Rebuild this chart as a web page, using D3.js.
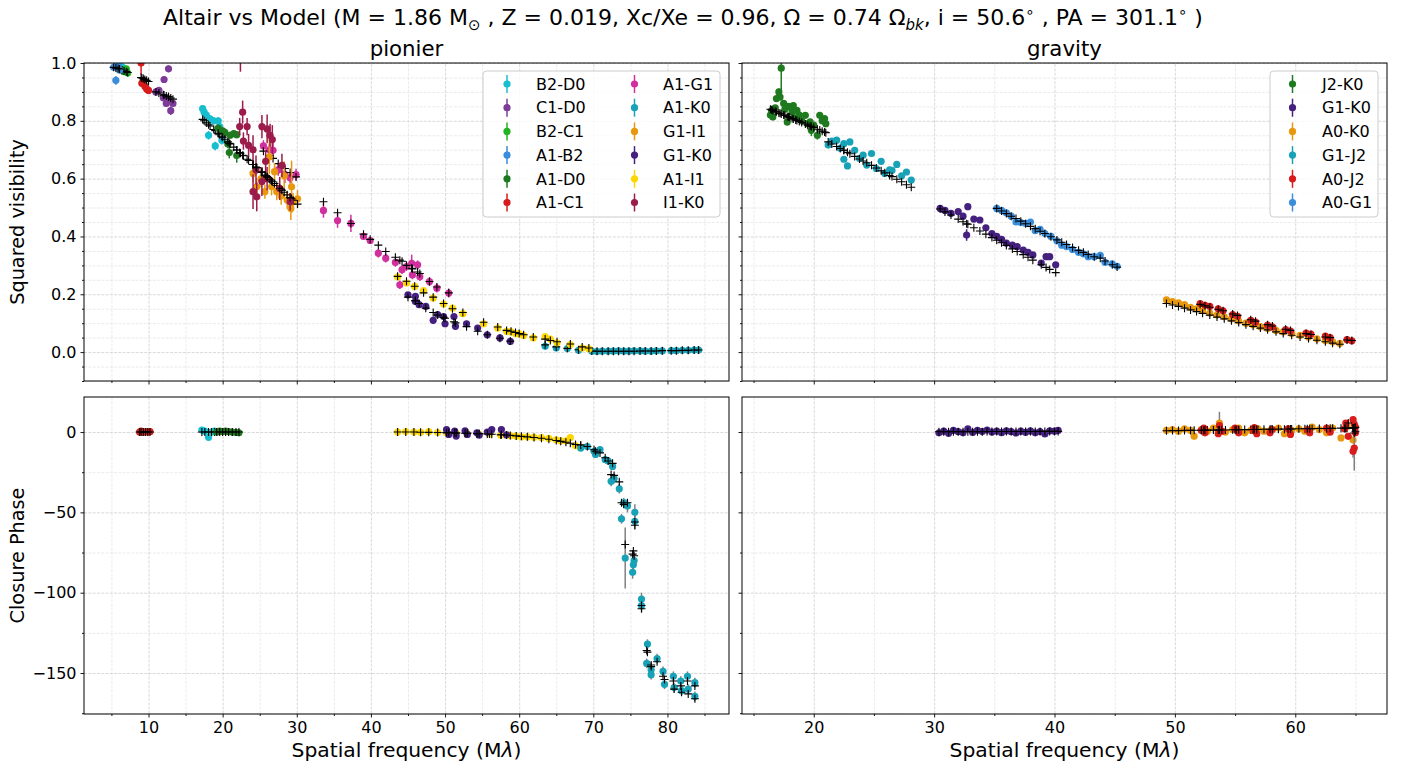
<!DOCTYPE html>
<html><head><meta charset="utf-8">
<script src="https://cdn.jsdelivr.net/npm/d3@7"></script>
<style>body{margin:0;background:#fff} svg{font-family:"DejaVu Sans",sans-serif}</style>
</head><body><svg id="c" width="1411" height="771"></svg>
<script>
// ===== PIONIER squared visibility rows: [spatial freq (Mλ), V², error, model V²]
const pV2_B2D0 = [[5.8,0.995,0.01,0.982],[6.2,0.99,0.01,0.979],[6.5,0.985,0.01,0.976],
 [17.3,0.842,0.012,0.805],[17.5,0.83,0.012,0.8],[17.8,0.82,0.012,0.793],[18.1,0.75,0.015,0.786],[18.3,0.807,0.012,0.782],
 [18.8,0.80,0.012,0.77],[19.0,0.713,0.015,0.766],[19.4,0.80,0.012,0.757],[19.6,0.78,0.012,0.752],[19.9,0.733,0.015,0.745]];
const pV2_C1D0 = [[11.0,0.90,0.01,0.90],[11.4,0.905,0.012,0.896],[12.1,0.943,0.012,0.889],[12.7,0.98,0.012,0.883],[12.0,0.88,0.012,0.89],
 [12.4,0.86,0.012,0.886],[12.7,0.87,0.012,0.883],[13.0,0.835,0.015,0.879],[13.3,0.86,0.012,0.875]];
const pV2_B2C1 = [[6.4,0.975,0.01,0.975],[6.7,0.97,0.01,0.972],[7.0,0.98,0.01,0.97],[7.2,0.965,0.01,0.967]];
const pV2_A1B2 = [[5.3,0.985,0.01,0.985],[5.6,0.94,0.015,0.983],[5.9,0.99,0.01,0.981],[6.1,0.975,0.01,0.979]];
const pV2_A1D0 = [[19.4,0.775,0.012,0.757],[20.0,0.765,0.012,0.743],[20.3,0.76,0.012,0.736],[20.7,0.72,0.015,0.727],[20.9,0.69,0.02,0.722],
 [21.0,0.75,0.012,0.72],[21.5,0.756,0.012,0.709],[21.9,0.752,0.012,0.699],[21.9,0.68,0.025,0.699]];
const pV2_A1C1 = [[9.0,1.0,0.04,0.95],[9.1,0.93,0.012,0.948],[9.3,0.94,0.01,0.946],[9.5,0.92,0.012,0.943],[9.75,0.91,0.012,0.94],[10.0,0.905,0.012,0.936]];
const pV2_A1G1 = [[25.5,0.713,0.02,0.695],[26.3,0.70,0.02,0.68],[26.8,0.698,0.03,0.67],[27.5,0.63,0.02,0.652],[28.4,0.615,0.03,0.635],
 [29.1,0.603,0.02,0.621],[29.9,0.614,0.02,0.606],[33.6,0.49,0.025,0.52],[35.5,0.455,0.025,0.482],[37.3,0.445,0.03,0.445],
 [39.0,0.40,0.01,0.408],[39.9,0.386,0.01,0.39],[41.0,0.342,0.015,0.37],[42.0,0.325,0.015,0.348],[43.3,0.31,0.015,0.328],
 [43.9,0.233,0.015,0.318],[44.2,0.285,0.015,0.314],[44.8,0.296,0.015,0.30],[45.5,0.307,0.03,0.29],[45.6,0.267,0.015,0.288],
 [46.3,0.302,0.015,0.277],[46.6,0.261,0.015,0.272],[47.9,0.244,0.015,0.244],[48.9,0.221,0.015,0.225],[50.5,0.204,0.015,0.205]];
const pV2_A1K0 = [[63.5,0.02,0.004,0.025],[65.0,0.014,0.004,0.018],[66.5,0.012,0.004,0.013],[68.0,0.006,0.003,0.008],[69.8,0.003,0.002,0.004],
 [70.5,0.002,0.002,0.003],[71.2,0.003,0.002,0.003],[72.0,0.003,0.002,0.003],[72.7,0.003,0.002,0.003],[73.4,0.004,0.002,0.003],
 [74.1,0.003,0.002,0.003],[74.8,0.003,0.002,0.003],[75.5,0.004,0.002,0.003],[76.3,0.004,0.002,0.004],[77.0,0.003,0.002,0.004],
 [77.8,0.003,0.002,0.004],[78.5,0.004,0.002,0.004],[79.3,0.004,0.002,0.005],[80.5,0.005,0.002,0.005],[81.2,0.005,0.002,0.005],
 [82.0,0.006,0.002,0.006],[82.8,0.006,0.002,0.006],[83.6,0.007,0.002,0.007],[84.2,0.007,0.002,0.007]];
const pV2_G1I1 = [[24.1,0.618,0.03,0.649],[24.6,0.572,0.03,0.638],[25.2,0.60,0.03,0.624],[25.7,0.555,0.025,0.612],[26.3,0.675,0.06,0.599],
 [26.6,0.572,0.03,0.592],[27.0,0.624,0.03,0.583],[27.3,0.555,0.03,0.576],[27.9,0.54,0.03,0.562],[28.3,0.61,0.05,0.553],
 [28.7,0.526,0.03,0.544],[29.2,0.497,0.04,0.532],[29.3,0.572,0.09,0.53],[29.5,0.52,0.03,0.525],[30.1,0.53,0.03,0.512]];
const pV2_G1K0 = [[45.0,0.198,0.01,0.19],[46.0,0.193,0.01,0.178],[46.0,0.175,0.01,0.178],[46.5,0.164,0.01,0.168],[47.4,0.158,0.01,0.152],
 [48.4,0.11,0.012,0.137],[49.0,0.13,0.01,0.128],[49.8,0.123,0.01,0.12],[50.0,0.098,0.01,0.117],[51.2,0.123,0.01,0.105],
 [51.4,0.089,0.01,0.101],[52.9,0.098,0.01,0.088],[54.4,0.083,0.008,0.072],[55.7,0.06,0.008,0.06],[57.4,0.049,0.006,0.048],[58.8,0.037,0.006,0.038]];
const pV2_A1I1 = [[43.6,0.26,0.01,0.262],[44.8,0.239,0.01,0.245],[45.9,0.227,0.01,0.228],[47.1,0.213,0.01,0.205],[48.4,0.187,0.012,0.19],
 [49.8,0.166,0.01,0.168],[51.0,0.152,0.01,0.15],[52.4,0.133,0.012,0.137],[55.2,0.098,0.01,0.103],[57.1,0.083,0.008,0.087],
 [58.3,0.072,0.008,0.075],[58.9,0.07,0.006,0.072],[59.5,0.064,0.006,0.068],[60.0,0.063,0.006,0.064],[60.6,0.057,0.006,0.06],
 [61.9,0.049,0.006,0.052],[63.5,0.054,0.006,0.045],[64.2,0.045,0.006,0.04],[65.1,0.032,0.005,0.036],[66.9,0.026,0.005,0.028],
 [68.5,0.014,0.004,0.018],[69.4,0.011,0.004,0.014]];
const pV2_I1K0 = [[22.4,1.02,0.05,0.688],[22.7,0.83,0.04,0.681],[22.3,0.78,0.03,0.69],[23.3,0.78,0.03,0.667],[22.8,0.73,0.03,0.679],
 [23.5,0.715,0.04,0.663],[24.1,0.70,0.05,0.649],[24.1,0.555,0.06,0.649],[24.6,0.537,0.05,0.638],[24.5,0.63,0.05,0.64],
 [25.3,0.78,0.04,0.622],[25.3,0.59,0.05,0.622],[25.8,0.66,0.04,0.61],[26.0,0.772,0.05,0.606],[26.0,0.60,0.04,0.606],
 [26.4,0.75,0.04,0.596],[26.7,0.735,0.05,0.589],[27.7,0.566,0.04,0.567],[28.0,0.646,0.04,0.56],[29.1,0.52,0.03,0.535]];

// ===== PIONIER closure phase rows: [spatial freq (Mλ), CP (deg), error, model CP]
const cpP_A1C1 = [[8.8,0,1,0],[9.0,0.5,1,0],[9.3,-0.2,1,0],[9.6,0.3,1,0],[9.9,0,1,0],[10.2,0.2,1,0]];
const cpP_B2D0 = [[17.2,1.2,1,0],[17.6,0.5,1,0],[18.1,-3.3,1.5,0],[18.5,0,1,0],[18.9,0.5,1,0]];
const cpP_A1D0 = [[19.2,0,1,0],[19.6,0.5,1,0],[20.0,0.3,1,0],[20.4,0.6,1,0],[20.8,0.2,1,0],[21.3,0,1,0],[21.8,-0.3,1,0],[22.2,-0.5,1,0]];
const cpP_A1I1 = [[43.6,0,0.6,0],[44.7,0.3,0.6,0],[45.8,0,0.6,0],[46.7,-0.2,0.6,-0.1],[47.8,0.2,0.6,-0.2],[49.0,-0.3,0.6,-0.3],
 [50.2,-0.5,0.6,-0.4],[51.5,-0.8,0.6,-0.6],[53.0,-1,0.6,-0.8],[54.6,-1.5,0.6,-1],[56.0,-1.2,0.6,-1.3],[57.5,-2,0.7,-1.7],
 [58.8,-2.3,0.7,-2.1],[59.6,-2.5,0.7,-2.4],[60.3,-3,0.7,-2.7],[61.1,-3,0.7,-3],[62.0,-3.2,0.7,-3.4],[63.0,-3.5,0.8,-3.9],
 [64.0,-4,0.8,-4.5],[65.0,-4.8,0.8,-5.3],[65.6,-5.5,0.8,-5.8],[66.3,-5.5,1,-6.4],[66.9,-3.5,1,-7],[67.6,-8.5,1,-7.8],[68.3,-9.5,1,-8.5]];
const cpP_G1K0 = [[50.2,1.5,1,-0.4],[50.5,-1.5,1,-0.4],[51.3,0.5,1,-0.5],[51.5,-2.5,1,-0.6],[52.7,0.8,1,-0.8],[53.0,-1.5,1,-0.8],
 [54.3,-0.5,1,-1],[54.6,-2,1,-1],[55.7,0,1,-1.2],[56.3,1.5,1,-1.4],[57.6,1.5,1,-1.7],[58.3,-1.8,1,-1.9]];
const cpP_A1K0 = [[68.3,-10,1.5,-8],[69.2,-9,1.5,-9],[70.1,-12,1.5,-11],[70.3,-14,1.5,-12],[70.9,-11,1.5,-13],[71.6,-17.2,2,-16],
 [72.0,-18,2,-18],[72.6,-21.4,2,-19.5],[72.4,-30.7,3,-26.5],[72.8,-29,3,-27],[73.5,-35.3,3,-31],[73.8,-54,3,-44],[74.1,-44,3,-45],
 [74.3,-78.4,19,-70],[74.6,-46,4,-44],[75.6,-50,5,-56],[75.6,-55.6,5,-58],[75.4,-82.6,4,-74],[75.3,-87.3,4,-76],[75.5,-80,4,-77],
 [76.5,-104,4,-108],[76.5,-108,4,-110],[77.3,-132,3,-137],[77.2,-144,3,-136],[77.8,-151,3,-146],[77.8,-148,3,-145],[78.6,-141,3,-143],
 [79.4,-149,3,-152],[79.6,-157,3,-154],[80.8,-152,3,-155],[80.9,-159,3,-160],[81.8,-155,3,-158],[81.9,-161,3,-162],[82.7,-152,3,-155],
 [82.8,-160,3,-163],[83.7,-156,3,-158],[83.7,-164.5,3,-166]];

// ===== GRAVITY squared visibility rows: [spatial freq (Mλ), V², error, model V²]
const gV2_J2K0 = [[16.4,0.82,0.01,0.84],[16.5,0.835,0.01,0.838],[16.6,0.813,0.01,0.836],[16.8,0.845,0.01,0.833],[16.9,0.877,0.01,0.831],
 [17.1,0.90,0.012,0.827],[17.2,0.882,0.01,0.826],[17.3,0.982,0.1,0.824],[17.5,0.86,0.01,0.82],[17.6,0.84,0.01,0.819],[17.8,0.796,0.012,0.815],
 [17.9,0.85,0.01,0.813],[18.0,0.848,0.01,0.812],[18.2,0.83,0.01,0.808],[18.3,0.853,0.01,0.806],[18.5,0.81,0.01,0.803],[18.6,0.836,0.01,0.801],
 [18.8,0.82,0.01,0.798],[19.0,0.80,0.01,0.794],[19.3,0.819,0.01,0.789],[19.5,0.79,0.01,0.785],[19.7,0.796,0.01,0.782],[19.8,0.767,0.02,0.78],
 [20.0,0.785,0.01,0.777],[20.3,0.75,0.015,0.771],[20.5,0.819,0.01,0.768],[20.7,0.80,0.01,0.764],[20.9,0.808,0.01,0.761],[21.0,0.79,0.01,0.759]];
const gV2_G1K0 = [[30.5,0.497,0.008,0.495],[30.9,0.49,0.008,0.485],[31.4,0.48,0.008,0.474],[32.0,0.486,0.008,0.46],[32.4,0.47,0.008,0.451],
 [32.8,0.503,0.008,0.442],[32.7,0.405,0.02,0.444],[33.3,0.46,0.008,0.43],[33.8,0.457,0.008,0.419],[34.3,0.43,0.008,0.408],[34.8,0.41,0.008,0.396],
 [35.2,0.40,0.008,0.387],[35.6,0.39,0.008,0.378],[36.0,0.377,0.008,0.369],[36.5,0.37,0.008,0.357],[36.9,0.365,0.008,0.348],[37.4,0.353,0.008,0.337],
 [37.8,0.345,0.008,0.328],[38.2,0.336,0.008,0.318],[38.9,0.308,0.008,0.302],[39.3,0.33,0.008,0.293],[39.6,0.33,0.008,0.286],[40.1,0.302,0.008,0.275]];
const gV2_A0K0 = [[49.3,0.181,0.005,0.168],[49.8,0.175,0.005,0.163],[50.3,0.17,0.005,0.158],[50.8,0.164,0.005,0.152],[51.3,0.155,0.005,0.146],
 [51.8,0.15,0.005,0.14],[52.3,0.143,0.005,0.134],[52.9,0.135,0.005,0.128],[53.5,0.128,0.005,0.121],[54.1,0.122,0.005,0.115],[54.7,0.115,0.005,0.108],
 [55.3,0.108,0.005,0.102],[55.9,0.10,0.005,0.095],[56.5,0.095,0.005,0.089],[57.1,0.088,0.005,0.083],[57.7,0.082,0.005,0.077],[58.4,0.075,0.005,0.07],
 [59.0,0.07,0.005,0.064],[59.7,0.064,0.005,0.058],[60.4,0.058,0.005,0.052],[61.1,0.052,0.005,0.047],[61.8,0.046,0.005,0.041],[62.5,0.04,0.005,0.036],
 [63.1,0.035,0.005,0.031],[63.7,0.03,0.005,0.027]];
const gV2_G1J2 = [[21.2,0.716,0.008,0.727],[21.5,0.73,0.008,0.72],[21.9,0.733,0.008,0.711],[22.2,0.705,0.008,0.704],[22.5,0.721,0.008,0.698],
 [22.5,0.667,0.008,0.698],[22.8,0.644,0.008,0.691],[23.0,0.727,0.008,0.686],[23.4,0.698,0.008,0.677],[23.8,0.67,0.008,0.668],[24.1,0.681,0.008,0.661],
 [24.4,0.647,0.008,0.655],[24.8,0.687,0.008,0.646],[25.2,0.635,0.008,0.637],[25.6,0.66,0.008,0.627],[25.9,0.618,0.008,0.62],[26.3,0.63,0.008,0.611],
 [26.5,0.629,0.008,0.607],[26.9,0.649,0.008,0.598],[27.3,0.61,0.008,0.589],[27.7,0.623,0.008,0.579],[28.1,0.595,0.008,0.57]];
const gV2_A0J2 = [[52.1,0.168,0.005,0.165],[52.5,0.162,0.005,0.16],[52.9,0.158,0.005,0.155],[53.6,0.15,0.005,0.148],[54.0,0.143,0.005,0.143],
 [54.8,0.13,0.005,0.132],[55.2,0.124,0.005,0.127],[56.3,0.11,0.005,0.112],[56.7,0.104,0.005,0.107],[57.7,0.093,0.005,0.095],[58.1,0.087,0.005,0.09],
 [59.2,0.078,0.005,0.079],[59.6,0.073,0.005,0.075],[60.9,0.066,0.005,0.064],[61.3,0.062,0.005,0.061],[62.5,0.055,0.005,0.052],[62.9,0.05,0.005,0.05],
 [64.3,0.043,0.005,0.042],[64.7,0.039,0.005,0.04]];
const gV2_A0G1 = [[35.2,0.497,0.008,0.497],[35.6,0.49,0.008,0.488],[36.0,0.482,0.008,0.479],[36.4,0.47,0.008,0.47],[36.8,0.45,0.008,0.462],
 [37.2,0.448,0.008,0.453],[37.6,0.445,0.008,0.444],[38.0,0.45,0.008,0.435],[38.4,0.42,0.008,0.427],[38.8,0.425,0.008,0.418],[39.2,0.41,0.008,0.41],
 [39.7,0.40,0.008,0.399],[40.2,0.385,0.008,0.388],[40.6,0.37,0.008,0.38],[41.0,0.365,0.008,0.372],[41.5,0.355,0.008,0.362],[42.0,0.345,0.008,0.352],
 [42.4,0.34,0.008,0.345],[42.8,0.33,0.008,0.338],[43.3,0.33,0.008,0.33],[43.8,0.335,0.008,0.325],[44.2,0.31,0.008,0.315],[44.8,0.305,0.008,0.302],
 [45.2,0.297,0.008,0.294]];

// ===== GRAVITY closure phase rows: [spatial freq (Mλ), CP (deg), error, model CP]
const cpG_G1K0 = [[30.4,-0.5,1,0.2],[30.8,0.5,1,0.2],[31.2,-0.8,1,0.2],[31.6,1.0,1,0.2],[32.0,0.2,1,0.2],[32.4,-0.5,1,0.2],[32.8,2.0,1,0.2],
 [33.2,-0.3,1,0.2],[33.6,1.0,1,0.2],[34.0,0.3,1,0.2],[34.4,1.2,1,0.3],[34.8,0.0,1,0.3],[35.2,0.6,1,0.3],[35.6,-0.4,1,0.3],[36.0,0.8,1,0.3],
 [36.4,0.2,1,0.3],[36.8,-0.6,1,0.3],[37.2,0.5,1,0.3],[37.6,-0.2,1,0.3],[38.0,0.7,1,0.3],[38.4,-0.5,1,0.3],[38.8,0.3,1,0.4],[39.2,-1.2,1,0.4],
 [39.6,0.8,1,0.4],[40.0,0.5,1,0.4],[40.3,1.0,1,0.4]];
const cpG_A0K0 = [[49.3,1.0,1,0.8],[49.8,1.5,1,0.9],[50.3,0.5,1,0.9],[50.8,2.0,1,1.0],[51.3,1.0,1,1.0],[51.6,-2.7,1.2,1.1],[52.2,1.5,1,1.1],
 [52.7,0.5,1,1.2],[53.2,2.5,1,1.2],[53.7,5.6,7,1.3],[54.2,0.0,1,1.3],[54.8,1.5,1,1.4],[55.3,2.5,1,1.4],[55.8,-0.5,1,1.5],[56.3,1.0,1,1.5],
 [56.9,2.0,1,1.6],[57.4,0.5,1,1.7],[58.0,1.5,1,1.7],[58.6,2.5,1,1.8],[59.1,-1.0,1,1.8],[59.7,1.0,1,1.9],[60.3,2.0,1,2.0],[60.8,0.5,1,2.0],
 [61.4,3.0,1,2.1],[62.0,1.5,1,2.2],[62.6,-0.5,1,2.2],[63.1,2.5,1,2.3],[63.8,-3.7,1.5,2.4],[64.3,3.5,1.5,2.4],[64.8,-5,2,2.5]];
const cpG_A0J2 = [[52.2,1.0,1,1.1],[52.4,2.5,1,1.1],[52.5,-0.5,1,1.2],[53.6,-1.0,1,1.3],[53.7,4.0,1,1.3],[53.9,0.5,1,1.3],[55.0,2.5,1,1.4],
 [55.1,1.5,1,1.4],[55.3,-0.5,1,1.4],[56.5,1.0,1,1.6],[56.6,2.8,1,1.6],[56.8,-1.0,1,1.6],[57.9,-0.5,1,1.7],[58.1,1.5,1,1.7],[59.4,2.0,1,1.9],
 [59.6,-1.5,1,1.9],[61.0,1.5,1,2.0],[61.2,-0.5,1,2.1],[62.6,2.5,1,2.2],[62.9,0.0,1,2.3],[64.1,2.0,1.5,2.4],[64.2,5.6,1.5,2.4],
 [64.4,-2.7,1.5,5.6],[64.8,7.7,2,2.5],[64.9,5.0,2,-0.6],[64.8,-12,4,2.5],[64.9,-10,14,2.6],[65.0,3.0,2,3.0],[65.0,-0.5,2,0.5]];

// ===== labels & colours
const pionierLabels = ['B2-D0','C1-D0','B2-C1','A1-B2','A1-D0','A1-C1','A1-G1','A1-K0','G1-I1','G1-K0','A1-I1','I1-K0'];
const pionierColors = ['#17becf','#7d3c98','#22b322','#3a8ddb','#1f7a1f','#d81b1b','#d12e9e','#17a2b8','#e8980c','#45207f','#ffd700','#9b1c4a'];
const gravityLabels = ['J2-K0','G1-K0','A0-K0','G1-J2','A0-J2','A0-G1'];
const gravityColors = ['#1f7a1f','#45207f','#e8980c','#17a2b8','#d81b1b','#3a8ddb'];
const cpPionierColors = ['#d81b1b','#17becf','#1f7a1f','#ffd700','#45207f','#17a2b8'];
const cpGravityColors = ['#45207f','#e8980c','#d81b1b'];

const pionierV2 = [pV2_B2D0,pV2_C1D0,pV2_B2C1,pV2_A1B2,pV2_A1D0,pV2_A1C1,pV2_A1G1,pV2_A1K0,pV2_G1I1,pV2_G1K0,pV2_A1I1,pV2_I1K0];
const gravityV2 = [gV2_J2K0,gV2_G1K0,gV2_A0K0,gV2_G1J2,gV2_A0J2,gV2_A0G1];
const pionierCP = [cpP_A1C1,cpP_B2D0,cpP_A1D0,cpP_A1I1,cpP_G1K0,cpP_A1K0];
const gravityCP = [cpG_G1K0,cpG_A0K0,cpG_A0J2];

// tick values
const xPionierMajor = [10,20,30,40,50,60,70,80];
const xPionierMinor = [5,15,25,35,45,55,65,75,85];
const xGravityMajor = [20,30,40,50,60];
const xGravityMinor = [15,25,35,45,55,65];
const yV2Major = [0,0.2,0.4,0.6,0.8,1.0];
const yV2Minor = [-0.1,-0.05,0.05,0.1,0.15,0.25,0.3,0.35,0.45,0.5,0.55,0.65,0.7,0.75,0.85,0.9,0.95];
const yCPMajor = [-150,-100,-50,0];
const yCPMinor = [-175,-125,-75,-25];

// ===== drawing
const svg = d3.select('#c');
const TICK_FS = 16, YLABEL_FS = 19.3, XLABEL_FS = 20.3, PTITLE_FS = 21.3;
let clipId = 0;

function makePanel(cfg){
  const x = d3.scaleLinear().domain(cfg.xd).range([cfg.x0,cfg.x1]);
  const y = d3.scaleLinear().domain(cfg.yd).range([cfg.y1,cfg.y0]);
  const w = cfg.x1-cfg.x0, h = cfg.y1-cfg.y0;
  const g = svg.append('g');
  const gridStyle = (sel, col, wd) => { sel.select('.domain').remove();
    sel.selectAll('line').attr('stroke',col).attr('stroke-width',wd).attr('stroke-dasharray','3,1.3'); };
  g.append('g').attr('transform',`translate(0,${cfg.y1})`)
    .call(d3.axisBottom(x).tickValues(cfg.xMinor).tickSize(-h).tickFormat(''))
    .call(s=>gridStyle(s,'#e6e6e6',0.8));
  g.append('g').attr('transform',`translate(${cfg.x0},0)`)
    .call(d3.axisLeft(y).tickValues(cfg.yMinor).tickSize(-w).tickFormat(''))
    .call(s=>gridStyle(s,'#e6e6e6',0.8));
  g.append('g').attr('transform',`translate(0,${cfg.y1})`)
    .call(d3.axisBottom(x).tickValues(cfg.xMajor).tickSize(-h).tickFormat(''))
    .call(s=>gridStyle(s,'#cfcfcf',0.8));
  g.append('g').attr('transform',`translate(${cfg.x0},0)`)
    .call(d3.axisLeft(y).tickValues(cfg.yMajor).tickSize(-w).tickFormat(''))
    .call(s=>gridStyle(s,'#cfcfcf',0.8));

  const id = 'clip'+(clipId++);
  svg.append('clipPath').attr('id',id).append('rect')
    .attr('x',cfg.x0).attr('y',cfg.y0).attr('width',w).attr('height',h);
  const dg = g.append('g').attr('clip-path',`url(#${id})`);
  cfg.series.forEach((rows,i)=>{
    const col = cfg.colors[i];
    const s = dg.append('g');
    s.selectAll('line.err').data(rows).join('line').attr('class','err')
      .attr('x1',d=>x(d[0])).attr('x2',d=>x(d[0]))
      .attr('y1',d=>y(d[1]-d[2])).attr('y2',d=>y(d[1]+d[2]))
      .attr('stroke',cfg.ecolor||col).attr('stroke-width',1.5);
    s.selectAll('circle').data(rows).join('circle')
      .attr('cx',d=>x(d[0])).attr('cy',d=>y(d[1])).attr('r',3.6).attr('fill',col);
    s.selectAll('path.model').data(rows).join('path').attr('class','model')
      .attr('transform',d=>`translate(${x(d[0])},${y(d[3])})`)
      .attr('d','M-4,0H4M0,-4V4').attr('stroke','#000').attr('stroke-width',1.1).attr('fill','none');
  });

  const tickStyle = sel => { sel.select('.domain').remove();
    sel.selectAll('line').attr('stroke','#000').attr('stroke-width',0.9);
    sel.selectAll('text').attr('font-size',TICK_FS).attr('fill','#000').attr('font-family','"DejaVu Sans",sans-serif'); };
  g.append('g').attr('transform',`translate(0,${cfg.y1})`)
    .call(d3.axisBottom(x).tickValues(cfg.xMinor.filter(v=>v>cfg.xd[0]&&v<cfg.xd[1])).tickSize(2).tickFormat(''))
    .call(tickStyle);
  g.append('g').attr('transform',`translate(0,${cfg.y1})`)
    .call(d3.axisBottom(x).tickValues(cfg.xMajor).tickSize(3.5).tickPadding(4)
      .tickFormat(cfg.showX ? d3.format('d') : ''))
    .call(tickStyle);
  g.append('g').attr('transform',`translate(${cfg.x0},0)`)
    .call(d3.axisLeft(y).tickValues(cfg.yMinor).tickSize(2).tickFormat(''))
    .call(tickStyle);
  g.append('g').attr('transform',`translate(${cfg.x0},0)`)
    .call(d3.axisLeft(y).tickValues(cfg.yMajor).tickSize(3.5).tickPadding(4)
      .tickFormat(cfg.showY ? cfg.yFmt : ''))
    .call(tickStyle);
  g.append('rect').attr('x',cfg.x0).attr('y',cfg.y0).attr('width',w).attr('height',h)
    .attr('fill','none').attr('stroke','#000').attr('stroke-width',1);
  return {x,y,g};
}

const L = {x0:84,x1:729}, R = {x0:742,x1:1387};
const T = {y0:63,y1:381}, B = {y0:397,y1:714};
const xdP = [1.3,88.3], xdG = [14.04,67.62];
const ydV = [-0.1,1.0], ydC = [-175.5,21.8];
const fmtV = d3.format('.1f'), fmtC = d3.format('d');

makePanel({...L,...T,xd:xdP,yd:ydV,xMajor:xPionierMajor,xMinor:xPionierMinor,yMajor:yV2Major,yMinor:yV2Minor,
  showX:false,showY:true,yFmt:fmtV,series:pionierV2,colors:pionierColors});
makePanel({...R,...T,xd:xdG,yd:ydV,xMajor:xGravityMajor,xMinor:xGravityMinor,yMajor:yV2Major,yMinor:yV2Minor,
  showX:false,showY:false,yFmt:fmtV,series:gravityV2,colors:gravityColors});
makePanel({...L,...B,xd:xdP,yd:ydC,xMajor:xPionierMajor,xMinor:xPionierMinor,yMajor:yCPMajor,yMinor:yCPMinor,
  showX:true,showY:true,yFmt:fmtC,series:pionierCP,colors:cpPionierColors,ecolor:'#808080'});
makePanel({...R,...B,xd:xdG,yd:ydC,xMajor:xGravityMajor,xMinor:xGravityMinor,yMajor:yCPMajor,yMinor:yCPMinor,
  showX:true,showY:false,yFmt:fmtC,series:gravityCP,colors:cpGravityColors,ecolor:'#808080'});

function legend(box, labels, colors, cols){
  const lg = svg.append('g');
  lg.append('rect').attr('x',box.x).attr('y',box.y).attr('width',box.w).attr('height',box.h)
    .attr('rx',3.5).attr('fill','#fff').attr('fill-opacity',0.8).attr('stroke','#cccccc').attr('stroke-width',1);
  const perCol = Math.ceil(labels.length/cols);
  labels.forEach((lab,i)=>{
    const c = Math.floor(i/perCol), r = i%perCol;
    const mx = box.mx[c], tx = box.tx[c], yy = box.ry + r*box.rs;
    lg.append('line').attr('x1',mx).attr('x2',mx).attr('y1',yy-9).attr('y2',yy+9)
      .attr('stroke',colors[i]).attr('stroke-width',1.5);
    lg.append('circle').attr('cx',mx).attr('cy',yy).attr('r',3.6).attr('fill',colors[i]);
    lg.append('text').attr('x',tx).attr('y',yy).attr('dy','0.36em').attr('font-size',16).text(lab);
  });
}
legend({x:483,y:71,w:237,h:146,mx:[507,634.5],tx:[536,663],ry:84,rs:23.7}, pionierLabels, pionierColors, 2);
legend({x:1270,y:71,w:108,h:146,mx:[1292.5],tx:[1322],ry:84,rs:23.7}, gravityLabels, gravityColors, 1);

svg.append('text').attr('x',(L.x0+L.x1)/2).attr('y',56).attr('text-anchor','middle').attr('font-size',PTITLE_FS).text('pionier');
svg.append('text').attr('x',(R.x0+R.x1)/2).attr('y',56).attr('text-anchor','middle').attr('font-size',PTITLE_FS).text('gravity');

svg.append('text').attr('transform',`translate(24,${(T.y0+T.y1)/2}) rotate(-90)`).attr('text-anchor','middle')
  .attr('font-size',YLABEL_FS).text('Squared visibility');
svg.append('text').attr('transform',`translate(24,${(B.y0+B.y1)/2}) rotate(-90)`).attr('text-anchor','middle')
  .attr('font-size',YLABEL_FS).text('Closure Phase');
[L,R].forEach(p=>{
  const t = svg.append('text').attr('x',(p.x0+p.x1)/2).attr('y',757).attr('text-anchor','middle').attr('font-size',XLABEL_FS);
  t.append('tspan').text('Spatial frequency (M');
  t.append('tspan').attr('font-style','italic').text('λ');
  t.append('tspan').text(')');
});

const tt = svg.append('text').attr('x',683).attr('y',25).attr('text-anchor','middle').attr('font-size',22);
tt.append('tspan').text('Altair vs Model (M = 1.86 M');
tt.append('tspan').attr('font-size',15).attr('dy',5).text('⊙');
tt.append('tspan').attr('dy',-5).text(' , Z = 0.019, Xc/Xe = 0.96, Ω = 0.74 Ω');
tt.append('tspan').attr('font-size',15).attr('font-style','italic').attr('dy',5).text('bk');
tt.append('tspan').attr('dy',-5).text(', i = 50.6');
tt.append('tspan').attr('font-size',15).attr('dy',-8).text('∘');
tt.append('tspan').attr('dy',8).text(' , PA = 301.1');
tt.append('tspan').attr('font-size',15).attr('dy',-8).text('∘');
tt.append('tspan').attr('dy',8).text(' )');
</script></body></html>
